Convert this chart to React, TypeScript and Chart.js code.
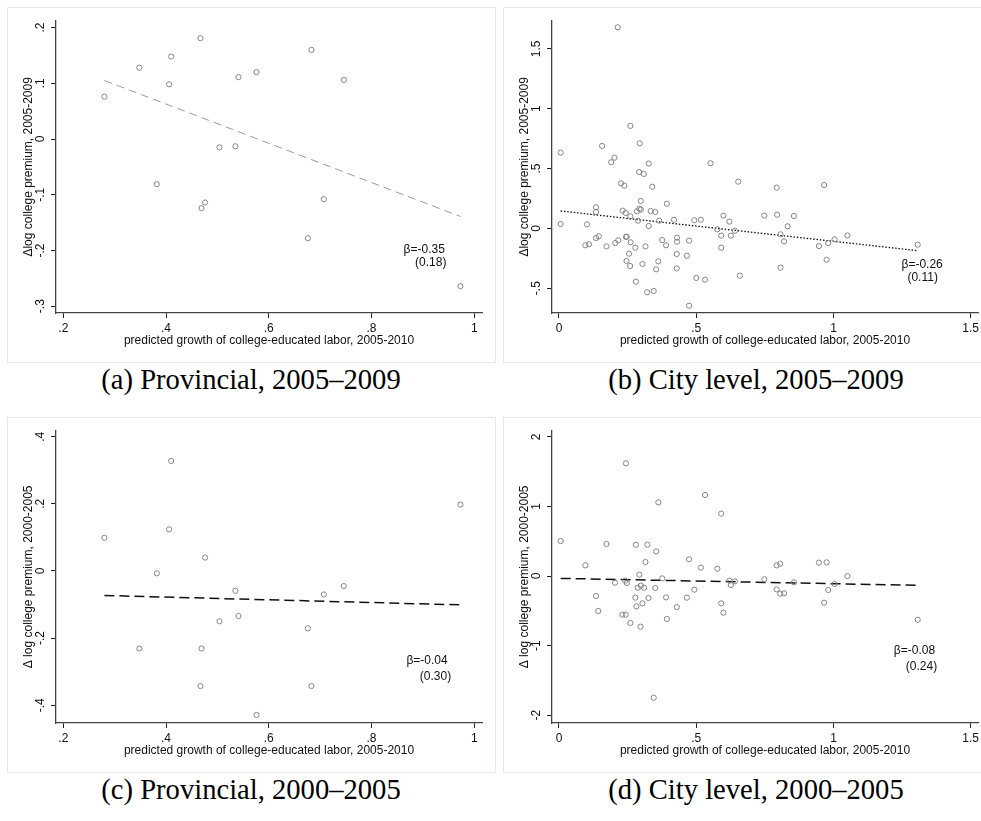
import React, { useEffect, useRef } from "react";
import { Chart, registerables } from "chart.js";

Chart.register(...registerables);

// ---------------- DATA ----------------
// Provincial panels (a) and (c): predicted growth of college-educated labor
const provX = [0.280, 0.348, 0.382, 0.406, 0.410, 0.467, 0.469, 0.476, 0.504, 0.535, 0.541, 0.576, 0.676, 0.683, 0.707, 0.746, 0.973];
// (a) Δlog college premium 2005-2009
const provDy0509 = [0.076, 0.128, -0.081, 0.098, 0.148, 0.181, -0.124, -0.114, -0.015, -0.013, 0.111, 0.120, -0.178, 0.160, -0.108, 0.106, -0.264];
// (c) Δlog college premium 2000-2005
const provDy0005 = [0.099, -0.231, -0.007, 0.124, 0.328, -0.343, -0.231, 0.040, -0.150, -0.059, -0.134, -0.429, -0.171, -0.343, -0.070, -0.045, 0.198];

// (b) City level 2005-2009
const cityX0509 = [0.006, 0.006, 0.102, 0.096, 0.109, 0.135, 0.135, 0.135, 0.145, 0.157, 0.173, 0.190, 0.202, 0.205, 0.216, 0.214, 0.226, 0.232, 0.238, 0.243, 0.244, 0.247, 0.246, 0.255, 0.260, 0.260, 0.261, 0.259, 0.278, 0.280, 0.284, 0.288, 0.292, 0.294, 0.293, 0.298, 0.298, 0.304, 0.309, 0.315, 0.321, 0.327, 0.327, 0.334, 0.340, 0.345, 0.351, 0.354, 0.365, 0.362, 0.376, 0.390, 0.393, 0.419, 0.430, 0.430, 0.429, 0.429, 0.466, 0.474, 0.474, 0.493, 0.500, 0.517, 0.532, 0.552, 0.577, 0.591, 0.591, 0.599, 0.621, 0.626, 0.641, 0.653, 0.659, 0.748, 0.793, 0.795, 0.807, 0.807, 0.820, 0.833, 0.856, 0.947, 0.966, 0.975, 0.981, 1.004, 1.051, 1.307];
const cityDy0509 = [0.633, 0.036, 0.033, -0.142, -0.134, 0.176, 0.137, -0.081, -0.067, 0.689, -0.151, 0.552, 0.591, -0.123, -0.100, 1.681, 0.376, 0.148, 0.357, 0.128, -0.072, -0.070, -0.273, -0.212, 0.856, 0.100, -0.117, -0.315, -0.162, -0.446, 0.142, 0.064, 0.471, 0.711, 0.164, 0.229, 0.156, -0.298, 0.454, -0.151, -0.535, 0.020, 0.541, 0.145, 0.348, -0.524, 0.137, -0.343, 0.064, -0.276, -0.098, -0.142, 0.206, 0.072, -0.078, -0.112, -0.215, -0.335, -0.229, -0.103, -0.647, 0.067, -0.415, 0.072, -0.429, 0.544, -0.008, -0.061, -0.162, 0.106, 0.056, -0.061, -0.020, 0.390, -0.396, 0.106, 0.340, 0.114, -0.050, -0.329, -0.109, 0.017, 0.103, -0.148, 0.362, -0.262, -0.123, -0.092, -0.059, -0.137];

// (d) City level 2000-2005
const cityX0005 = [0.006, 0.096, 0.135, 0.143, 0.173, 0.204, 0.231, 0.241, 0.243, 0.244, 0.247, 0.260, 0.278, 0.280, 0.282, 0.287, 0.293, 0.297, 0.298, 0.304, 0.310, 0.315, 0.322, 0.326, 0.345, 0.351, 0.354, 0.362, 0.376, 0.390, 0.393, 0.429, 0.466, 0.474, 0.493, 0.517, 0.532, 0.577, 0.591, 0.591, 0.599, 0.621, 0.626, 0.641, 0.748, 0.793, 0.793, 0.806, 0.806, 0.820, 0.856, 0.947, 0.966, 0.975, 0.981, 1.004, 1.051, 1.307];
const cityDy0005 = [0.503, 0.153, -0.287, -0.503, 0.460, -0.096, -0.556, -0.067, -0.556, 1.619, -0.101, -0.675, -0.311, 0.450, -0.436, -0.168, 0.019, -0.728, -0.139, -0.393, -0.168, 0.201, 0.450, -0.316, -1.749, -0.172, 0.354, 1.059, -0.034, -0.307, -0.618, -0.446, -0.311, 0.240, -0.196, 0.120, 1.164, 0.105, -0.393, 0.896, -0.527, -0.067, -0.129, -0.077, -0.048, -0.192, 0.153, -0.254, 0.177, -0.249, -0.091, 0.192, -0.383, 0.196, -0.201, -0.115, 0.000, -0.628];

// Fitted lines (endpoints)
const provFitX = [0.280, 0.973];
const fitY_a = [0.105, -0.139];
const fitY_c = [-0.073, -0.101];
const cityFitX = [0.006, 1.307];
const fitY_b = [0.145, -0.187];
const fitY_d = [-0.034, -0.134];

// Tick values
const provXTicks = [0.2, 0.4, 0.6, 0.8, 1];
const cityXTicks = [0, 0.5, 1, 1.5];
const yTicks_a = [-0.3, -0.2, -0.1, 0, 0.1, 0.2];
const yTicks_b = [-0.5, 0, 0.5, 1, 1.5];
const yTicks_c = [-0.4, -0.2, 0, 0.2, 0.4];
const yTicks_d = [-2, -1, 0, 1, 2];

// Texts
const xTitle = "predicted growth of college-educated labor, 2005-2010";
const yTitle_a = "Δlog college premium, 2005-2009";
const yTitle_b = "Δlog college premium, 2005-2009";
const yTitle_c = "Δ log college premium, 2000-2005";
const yTitle_d = "Δ log college premium, 2000-2005";
const notes_a = ["β=-0.35", "(0.18)"];
const notes_b = ["β=-0.26", "(0.11)"];
const notes_c = ["β=-0.04", "(0.30)"];
const notes_d = ["β=-0.08", "(0.24)"];
const captions = ["(a) Provincial, 2005–2009", "(b) City level, 2005–2009", "(c) Provincial, 2000–2005", "(d) City level, 2000–2005"];

// ---------------- STYLE / LAYOUT ----------------
const SANS = '"Liberation Sans", Arial, Helvetica, sans-serif';
const SERIF = '"Liberation Serif", "Times New Roman", Times, serif';
const CW = 488;
const CH = 355;

const fmt = (v: number) => {
  const r = Math.round(v * 100) / 100;
  if (r === 0) return "0";
  return String(r).replace(/^(-?)0\./, "$1.");
};

type Panel = {
  left: number;
  top: number;
  xs: number[];
  ys: number[];
  fitX: number[];
  fitY: number[];
  xTicks: number[];
  yTicks: number[];
  xRange: [number, number];
  yRange: [number, number];
  yTitle: string;
  fitColor: string;
  fitWidth: number;
  fitDash: number[];
  notes: string[];
  notePos: [number, number][];
  caption: string;
  capCenter: number;
  capBaseline: number;
};

const PANELS: Panel[] = [
  {
    left: 7, top: 7, xs: provX, ys: provDy0509, fitX: provFitX, fitY: fitY_a,
    xTicks: provXTicks, yTicks: yTicks_a, xRange: [0.1858, 1.015], yRange: [-0.3122, 0.2123],
    yTitle: yTitle_a, fitColor: "#9a9a9a", fitWidth: 1, fitDash: [8, 5],
    notes: notes_a, notePos: [[0.9025, -0.198], [0.9153, -0.222]],
    caption: captions[0], capCenter: 251, capBaseline: 390,
  },
  {
    left: 503, top: 7, xs: cityX0509, ys: cityDy0509, fitX: cityFitX, fitY: fitY_b,
    xTicks: cityXTicks, yTicks: yTicks_b, xRange: [-0.0255, 1.5266], yRange: [-0.708, 1.736],
    yTitle: yTitle_b, fitColor: "#111", fitWidth: 1.3, fitDash: [1.5, 1.8],
    notes: notes_b, notePos: [[1.323, -0.303], [1.325, -0.413]],
    caption: captions[1], capCenter: 756, capBaseline: 390,
  },
  {
    left: 7, top: 417, xs: provX, ys: provDy0005, fitX: provFitX, fitY: fitY_c,
    xTicks: provXTicks, yTicks: yTicks_c, xRange: [0.1858, 1.015], yRange: [-0.453, 0.418],
    yTitle: yTitle_c, fitColor: "#111", fitWidth: 1.5, fitDash: [10, 5],
    notes: notes_c, notePos: [[0.908, -0.268], [0.9245, -0.315]],
    caption: captions[2], capCenter: 251, capBaseline: 800,
  },
  {
    left: 503, top: 417, xs: cityX0005, ys: cityDy0005, fitX: cityFitX, fitY: fitY_d,
    xTicks: cityXTicks, yTicks: yTicks_d, xRange: [-0.0255, 1.5266], yRange: [-2.112, 2.088],
    yTitle: yTitle_d, fitColor: "#111", fitWidth: 1.5, fitDash: [10, 5],
    notes: notes_d, notePos: [[1.295, -1.073], [1.3206, -1.303]],
    caption: captions[3], capCenter: 756, capBaseline: 800,
  },
];

function makeChart(canvas: HTMLCanvasElement, p: Panel) {
  const extras = {
    id: "extras",
    afterDraw(chart: any) {
      const ctx = chart.ctx as CanvasRenderingContext2D;
      const ys = chart.scales.y;
      const xs = chart.scales.x;
      ctx.save();
      ctx.fillStyle = "#111";
      ctx.font = `12px ${SANS}`;
      ctx.textAlign = "center";
      ctx.textBaseline = "middle";
      // rotated y tick labels (Stata style)
      for (const t of ys.ticks) {
        const py = ys.getPixelForValue(t.value);
        ctx.save();
        ctx.translate(chart.chartArea.left - 15.5, py);
        ctx.rotate(-Math.PI / 2);
        ctx.fillText(fmt(t.value), 0, 0);
        ctx.restore();
      }
      // coefficient notes
      p.notes.forEach((txt, i) => {
        const [vx, vy] = p.notePos[i];
        ctx.fillText(txt, xs.getPixelForValue(vx), ys.getPixelForValue(vy));
      });
      ctx.restore();
    },
  };

  return new Chart(canvas, {
    type: "scatter",
    data: {
      datasets: [
        {
          type: "scatter",
          data: p.xs.map((x, i) => ({ x, y: p.ys[i] })),
          pointStyle: "circle",
          pointRadius: 2.6,
          pointBorderWidth: 1,
          borderColor: "#858585",
          backgroundColor: "rgba(0,0,0,0)",
          pointBackgroundColor: "rgba(0,0,0,0)",
          pointBorderColor: "#858585",
          clip: false,
        } as any,
        {
          type: "line",
          data: p.fitX.map((x, i) => ({ x, y: p.fitY[i] })),
          borderColor: p.fitColor,
          borderWidth: p.fitWidth,
          borderDash: p.fitDash,
          pointRadius: 0,
          fill: false,
          tension: 0,
          clip: false,
        } as any,
      ],
    },
    options: {
      responsive: false,
      maintainAspectRatio: false,
      animation: false,
      events: [],
      layout: { padding: { top: 13.7, right: 13, left: 0, bottom: 0 } },
      plugins: {
        legend: { display: false },
        tooltip: { enabled: false },
        title: { display: false },
      },
      scales: {
        x: {
          type: "linear",
          position: "bottom",
          min: p.xRange[0],
          max: p.xRange[1],
          afterBuildTicks: (s: any) => {
            s.ticks = p.xTicks.map((v) => ({ value: v }));
          },
          afterFit: (s: any) => {
            s.height = 49;
          },
          grid: {
            display: true,
            drawOnChartArea: false,
            drawTicks: true,
            tickLength: 5,
            tickColor: "#222",
            tickWidth: 1,
          },
          border: { display: true, color: "#444", width: 1.3 },
          ticks: {
            display: true,
            font: { family: SANS, size: 12 },
            color: "#111",
            padding: 3,
            maxRotation: 0,
            minRotation: 0,
            autoSkip: false,
            callback: (v: any) => fmt(Number(v)),
          },
          title: {
            display: true,
            text: xTitle,
            font: { family: SANS, size: 12 },
            color: "#111",
            padding: { top: 0, bottom: 13.8 },
          },
        },
        y: {
          type: "linear",
          position: "left",
          min: p.yRange[0],
          max: p.yRange[1],
          afterBuildTicks: (s: any) => {
            s.ticks = p.yTicks.map((v) => ({ value: v }));
          },
          afterFit: (s: any) => {
            s.width = 49;
          },
          grid: {
            display: true,
            drawOnChartArea: false,
            drawTicks: true,
            tickLength: 5,
            tickColor: "#222",
            tickWidth: 1,
          },
          border: { display: true, color: "#444", width: 1.3 },
          ticks: { display: false },
          title: {
            display: true,
            text: p.yTitle,
            font: { family: SANS, size: 12 },
            color: "#111",
            padding: { top: 14.8, bottom: 0 },
          },
        },
      },
    } as any,
    plugins: [extras],
  });
}

function PanelChart({ p }: { p: Panel }) {
  const ref = useRef<HTMLCanvasElement | null>(null);
  useEffect(() => {
    if (!ref.current) return;
    const chart = makeChart(ref.current, p);
    return () => chart.destroy();
  }, [p]);
  return (
    <>
      <div
        style={{
          position: "absolute",
          left: p.left,
          top: p.top,
          width: CW + 1,
          height: CH + 1,
          boxSizing: "border-box",
          border: "1px solid #e3eaea",
        }}
      />
      <canvas
        ref={ref}
        width={CW}
        height={CH}
        style={{ position: "absolute", left: p.left, top: p.top, width: CW, height: CH }}
      />
      <div
        style={{
          position: "absolute",
          left: p.capCenter - 250,
          width: 500,
          top: p.capBaseline - 23.8,
          textAlign: "center",
          fontFamily: SERIF,
          fontSize: 28.6,
          lineHeight: "28px",
          color: "#000",
          whiteSpace: "nowrap",
        }}
      >
        {p.caption}
      </div>
    </>
  );
}

export default function App() {
  return (
    <div
      style={{
        position: "absolute",
        left: 0,
        top: 0,
        width: 981,
        height: 821,
        overflow: "hidden",
        background: "#fff",
      }}
    >
      {PANELS.map((p, i) => (
        <PanelChart key={i} p={p} />
      ))}
    </div>
  );
}
